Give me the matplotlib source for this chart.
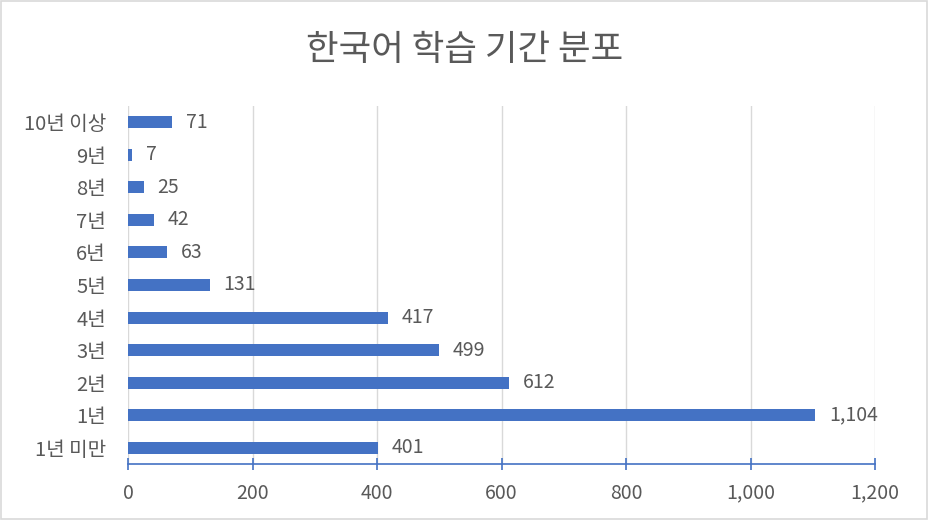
import matplotlib
matplotlib.use('Agg')
import matplotlib.pyplot as plt
from matplotlib.patches import Rectangle
from matplotlib.ticker import FuncFormatter, MultipleLocator

plt.rcParams['font.family'] = ['Noto Sans CJK KR', 'DejaVu Sans']

# data (bottom to top)
categories = ['1년 미만', '1년', '2년', '3년', '4년', '5년', '6년', '7년', '8년', '9년', '10년 이상']
counts = [401, 1104, 612, 499, 417, 131, 63, 42, 25, 7, 71]
title = '한국어 학습 기간 분포'

text_col = '#595959'
bar_col = '#4472C4'

fig = plt.figure(figsize=(9.29, 5.2), dpi=100)
ax = fig.add_axes([0.1378, 0.1077, 0.8041, 0.6885])

y = range(len(categories))
bars = ax.barh(y, counts, height=0.37, color=bar_col, zorder=3)
for b, v in zip(bars, counts):
    ax.annotate('{:,}'.format(v), (b.get_width(), b.get_y() + b.get_height() / 2),
                xytext=(10, 0), textcoords='offset points', va='center', ha='left',
                fontsize=14, color=text_col)

ax.set_xlim(0, 1200)
ax.set_ylim(-0.5, len(categories) - 0.5)
ax.xaxis.set_major_locator(MultipleLocator(200))
ax.xaxis.set_major_formatter(FuncFormatter(lambda x, p: '{:,.0f}'.format(x)))
ax.set_yticks(list(y))
ax.set_yticklabels(categories)

ax.grid(axis='x', color='#D9D9D9', linewidth=1, zorder=0)
for s in ['top', 'right', 'left']:
    ax.spines[s].set_visible(False)
ax.spines['bottom'].set_color(bar_col)
ax.spines['bottom'].set_linewidth(1.2)
ax.tick_params(axis='x', direction='inout', length=9, width=1.2, color=bar_col,
               labelcolor=text_col, labelsize=14, pad=9)
ax.tick_params(axis='y', length=0, labelcolor=text_col, labelsize=14.5, pad=16)

fig.text(0.5, 0.903, title, ha='center', va='center', fontsize=25.5, color=text_col)

fig.patches.append(Rectangle((0.001, 0.002), 0.997, 0.996, transform=fig.transFigure,
                             fill=False, edgecolor='#D9D9D9', linewidth=1.2))

fig.savefig('out.png', dpi=100)
